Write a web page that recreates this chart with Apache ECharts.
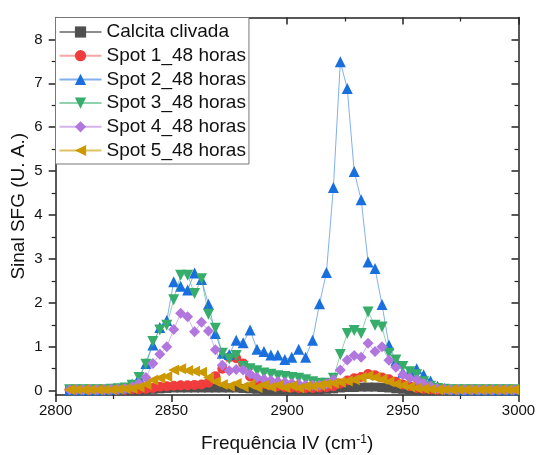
<!DOCTYPE html>
<html><head><meta charset="utf-8">
<script src="https://cdn.jsdelivr.net/npm/echarts@6/dist/echarts.min.js"></script>
<style>html,body{margin:0;padding:0;background:#fff}#c{width:536px;height:455px}</style>
</head><body><div id="c"></div>
<script>
const freq = [2806,2809,2812,2815,2818,2821,2824,2827,2830,2833,2836,2839,2842,2845,2848,2851,2854,2857,2860,2863,2866,2869,2872,2875,2878,2881,2884,2887,2890,2893,2896,2899,2902,2905,2908,2911,2914,2917,2920,2923,2926,2929,2932,2935,2938,2941,2944,2947,2950,2953,2956,2959,2962,2965,2968,2971,2974,2977,2980,2983,2986,2989,2992,2995,2998];

const calcita = [0.01,0.01,0.01,0.01,0.01,0.01,0.01,0.01,0.01,0.01,
  0.01,0.02,0.03,0.04,0.05,0.06,0.06,0.06,0.06,0.06,
  0.06,0.06,0.06,0.06,0.06,0.05,0.04,0.03,0.02,0.02,
  0.02,0.02,0.02,0.02,0.02,0.02,0.02,0.03,0.04,0.06,
  0.07,0.07,0.08,0.08,0.08,0.07,0.06,0.04,0.03,0.02,
  0.01,0.01,0.01,0.01,0.01,0.01,0.01,0.01,0.01,0.01,
  0.01,0.01,0.01,0.01,0.01];

const spot1 = [0.02,0.02,0.01,0.02,0.02,0.01,0.02,0.02,0.02,0.03,
  0.03,0.04,0.06,0.09,0.10,0.11,0.12,0.12,0.13,0.14,
  0.18,0.33,0.50,0.76,0.74,0.62,0.32,0.20,0.15,0.12,
  0.10,0.08,0.07,0.06,0.06,0.06,0.07,0.08,0.10,0.16,
  0.23,0.28,0.31,0.38,0.35,0.30,0.26,0.20,0.14,0.10,
  0.06,0.04,0.03,0.02,0.02,0.02,0.02,0.01,0.02,0.02,
  0.02,0.01,0.02,0.02,0.02];

const spot2 = [0.02,0.02,0.02,0.02,0.02,0.02,0.03,0.04,0.06,0.15,
  0.30,0.62,1.04,1.44,1.60,2.48,2.38,2.29,2.68,2.53,
  1.97,1.30,0.85,0.82,1.15,1.09,1.38,0.94,0.89,0.81,
  0.81,0.71,0.76,0.94,0.76,1.15,1.98,2.69,4.63,7.49,
  6.88,4.99,4.35,2.93,2.78,1.96,1.04,0.68,0.42,0.43,
  0.50,0.36,0.22,0.10,0.05,0.03,0.02,0.02,0.02,0.02,
  0.02,0.02,0.02,0.02,0.02];

const spot3 = [0.02,0.02,0.02,0.02,0.02,0.02,0.03,0.04,0.06,0.12,
  0.30,0.60,1.12,1.38,1.49,2.07,2.63,2.63,2.21,2.55,
  1.74,1.42,0.85,0.72,0.80,0.55,0.50,0.45,0.40,0.37,
  0.34,0.32,0.30,0.28,0.25,0.20,0.17,0.17,0.28,0.82,
  1.30,1.37,1.30,1.79,1.49,1.45,0.85,0.70,0.55,0.43,
  0.36,0.20,0.10,0.05,0.03,0.02,0.02,0.02,0.02,0.02,
  0.02,0.02,0.02,0.02,0.02];

const spot4 = [0.02,0.02,0.02,0.02,0.02,0.02,0.03,0.03,0.05,0.08,
  0.16,0.30,0.62,0.83,1.00,1.39,1.76,1.68,1.34,1.56,
  1.36,0.93,0.58,0.45,0.48,0.47,0.38,0.30,0.26,0.23,
  0.21,0.19,0.17,0.15,0.13,0.12,0.12,0.15,0.25,0.47,
  0.70,0.80,0.76,1.08,0.89,1.00,0.69,0.53,0.36,0.29,
  0.24,0.16,0.10,0.05,0.03,0.02,0.02,0.02,0.02,0.02,
  0.02,0.02,0.02,0.02,0.02];

const spot5 = [0.02,0.02,0.02,0.02,0.02,0.02,0.02,0.03,0.04,0.05,
  0.08,0.14,0.24,0.29,0.32,0.47,0.50,0.46,0.44,0.42,
  0.30,0.20,0.14,0.10,0.16,0.09,0.14,0.07,0.13,0.08,
  0.12,0.07,0.11,0.06,0.10,0.10,0.12,0.15,0.17,0.19,
  0.22,0.25,0.30,0.34,0.30,0.26,0.20,0.15,0.12,0.08,
  0.06,0.04,0.03,0.02,0.02,0.02,0.02,0.02,0.02,0.02,
  0.02,0.02,0.02,0.02,0.02];

const seriesNames = ['Calcita clivada','Spot 1_48 horas','Spot 2_48 horas','Spot 3_48 horas','Spot 4_48 horas','Spot 5_48 horas'];
const yTickValues = [0,1,2,3,4,5,6,7,8];
const yMinorValues = [0.5,1.5,2.5,3.5,4.5,5.5,6.5,7.5];
const xTickValues = [2800,2850,2900,2950,3000];

const styles = [
  {color:'#4f4f4f', line:'rgba(80,80,80,0.65)', symbol:'rect', rotate:0, size:9},
  {color:'#f03c3c', line:'rgba(240,60,60,0.45)', symbol:'circle', rotate:0, size:10},
  {color:'#1a6fdf', line:'rgba(26,111,223,0.55)', symbol:'triangle', rotate:0, size:11},
  {color:'#37ad6b', line:'rgba(55,173,107,0.55)', symbol:'triangle', rotate:180, size:11},
  {color:'#b177de', line:'rgba(177,119,222,0.55)', symbol:'diamond', rotate:0, size:11},
  {color:'#cc9900', line:'rgba(204,153,0,0.6)', symbol:'triangle', rotate:90, size:11}
];
const values = [calcita, spot1, spot2, spot3, spot4, spot5];

const FONT = 'Arial, "Liberation Sans", sans-serif';
const series = values.map((v, k) => ({
  name: seriesNames[k],
  type: 'line',
  data: freq.map((f, i) => [f, v[i]]),
  symbol: styles[k].symbol,
  symbolRotate: styles[k].rotate,
  symbolSize: styles[k].size,
  showAllSymbol: true,
  clip: false,
  itemStyle: {color: styles[k].color, borderWidth: 0},
  lineStyle: {color: styles[k].line, width: 1},
  emphasis: {disabled: true},
  z: 2 + k
}));

const axisLineStyle = {color: '#222', width: 1.5};
const X_MIN = 2800, X_MAX = 3000, Y_MIN = -0.1, Y_MAX = 8.5;

const chart = echarts.init(document.getElementById('c'), null, {renderer: 'canvas'});
chart.setOption({
  animation: false,
  backgroundColor: '#fff',
  grid: {left: 55.7, right: 17.5, top: 17.5, bottom: 60, containLabel: false, outerBoundsMode: 'none'},
  legend: {
    data: seriesNames,
    orient: 'vertical',
    left: 55.5, top: 17.5,
    padding: [5, 3, 4, 3],
    itemWidth: 42, itemHeight: 14, itemGap: 4.7,
    borderColor: '#777', borderWidth: 1,
    backgroundColor: '#fff',
    textStyle: {fontFamily: FONT, fontSize: 19, color: '#111', lineHeight: 19},
    selectedMode: false,
    z: 20
  },
  xAxis: [
    {
      type: 'value', position: 'bottom', min: X_MIN, max: X_MAX, interval: 50,
      axisLine: {show: true, onZero: false, lineStyle: axisLineStyle},
      axisTick: {show: true, inside: false, length: 7, lineStyle: axisLineStyle},
      minorTick: {show: true, splitNumber: 2, length: 4, lineStyle: {color: '#222', width: 1.2}},
      splitLine: {show: false},
      axisLabel: {show: true, fontFamily: FONT, fontSize: 15, color: '#111', margin: 8,
        customValues: xTickValues, formatter: v => String(v)},
      name: 'Frequência IV (cm{s|-1})',
      nameLocation: 'middle', nameGap: 39, nameMoveOverlap: false,
      nameTextStyle: {fontFamily: FONT, fontSize: 19, color: '#111',
        rich: {s: {fontFamily: FONT, fontSize: 12, color: '#111', verticalAlign: 'top'}}}
    },
    {
      type: 'value', position: 'top', min: X_MIN, max: X_MAX, interval: 50,
      axisLine: {show: true, onZero: false, lineStyle: axisLineStyle},
      axisTick: {show: true, inside: true, length: 7, lineStyle: axisLineStyle},
      minorTick: {show: true, splitNumber: 2, length: 4, lineStyle: {color: '#222', width: 1.2}},
      splitLine: {show: false},
      axisLabel: {show: false}
    }
  ],
  yAxis: [
    {
      type: 'value', position: 'left', min: Y_MIN, max: Y_MAX,
      axisLine: {show: true, onZero: false, lineStyle: axisLineStyle},
      axisTick: {show: true, inside: false, length: 7, lineStyle: axisLineStyle, customValues: yTickValues},
      splitLine: {show: false},
      axisLabel: {show: true, fontFamily: FONT, fontSize: 15, color: '#111', margin: 13, customValues: yTickValues},
      name: 'Sinal SFG (U. A.)',
      nameLocation: 'middle', nameGap: 27, nameRotate: 90, nameMoveOverlap: false,
      nameTextStyle: {fontFamily: FONT, fontSize: 19, color: '#111'}
    },
    {
      type: 'value', position: 'left', min: Y_MIN, max: Y_MAX,
      axisLine: {show: false},
      axisTick: {show: true, inside: false, length: 4, lineStyle: {color: '#222', width: 1.2}, customValues: yMinorValues},
      splitLine: {show: false},
      axisLabel: {show: false}
    },
    {
      type: 'value', position: 'right', min: Y_MIN, max: Y_MAX,
      axisLine: {show: true, onZero: false, lineStyle: axisLineStyle},
      axisTick: {show: true, inside: true, length: 7, lineStyle: axisLineStyle, customValues: yTickValues},
      splitLine: {show: false},
      axisLabel: {show: false}
    },
    {
      type: 'value', position: 'right', min: Y_MIN, max: Y_MAX,
      axisLine: {show: false},
      axisTick: {show: true, inside: true, length: 4, lineStyle: {color: '#222', width: 1.2}, customValues: yMinorValues},
      splitLine: {show: false},
      axisLabel: {show: false}
    }
  ],
  series: series
});
</script>
</body></html>
